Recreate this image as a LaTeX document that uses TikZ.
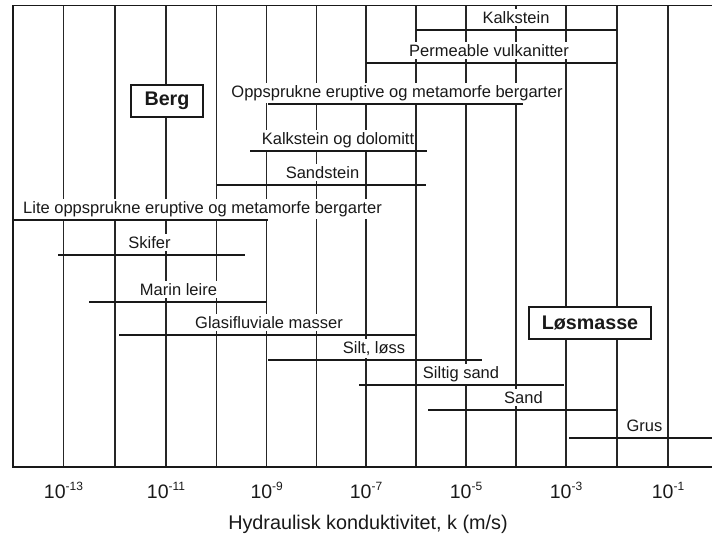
\documentclass[tikz,border=0pt]{standalone}
\usepackage{fontspec}
\setmainfont{Liberation Sans}
\begin{document}
\begin{tikzpicture}[x=1pt,y=-1pt,
  grid/.style={line width=1.2pt, draw=black!85},
  frame/.style={line width=1.6pt, draw=black!90},
  baseline axis/.style={line width=2.5pt, draw=black!90},
  bar/.style={line width=2.8pt, draw=black!90},
  lbl/.style={font=\fontsize{16.5}{18}\selectfont, text=black!90, fill=white, inner xsep=1pt, inner ysep=2.5pt, anchor=base},
  catbox/.style={draw=black!90, line width=1.8pt, fill=white, font=\fontsize{19.7}{22}\selectfont\bfseries, text=black!90, minimum width=72pt, minimum height=32pt, inner sep=0pt},
  tick/.style={font=\fontsize{19.5}{22}\selectfont, text=black!90, anchor=base, inner sep=0pt},
  axtitle/.style={font=\fontsize{19.8}{22}\selectfont, text=black!90, anchor=base},
]
\useasboundingbox (0,0) rectangle (712,536);
% vertical grid lines (one per decade)
\foreach \x in {63.5,115,166,216.7,266.7,316.7,366,416,466,516,566,617,668}
  \draw[grid] (\x,5.5) -- (\x,467);
% frame
\coordinate (tr) at (712,5.5);
\coordinate (tl) at (13,5.5);
\coordinate (bl) at (13,467);
\coordinate (br) at (712,467);
\draw[frame] (tr) -- (tl) -- (bl);
\draw[baseline axis] ([xshift=-0.8pt]bl) -- (br);
% labels (white background hides the grid lines behind them)
\foreach \n/\y/\c/\t in {
  kalk/30/516/{Kalkstein},
  perm/63/489/{Permeable vulkanitter},
  opps/104/397/{Oppsprukne eruptive og metamorfe bergarter},
  dolo/151/338/{Kalkstein og dolomitt},
  sand/185/322.5/{Sandstein},
  lite/220/202.5/{Lite oppsprukne eruptive og metamorfe bergarter},
  skif/255/149.5/{Skifer},
  mari/302/178.5/{Marin leire},
  glas/335/269/{Glasifluviale masser},
  silt/360/374/{Silt, løss},
  sisa/385/461/{Siltig sand},
  sndd/410/523.5/{Sand},
  grus/438/644.5/{Grus}}
  \node[lbl] (l-\n) at (\c,\y-6.5) {\t};
% bars
\foreach \n/\y/\a/\b in {
  kalk/30/416/617,
  perm/63/366/617,
  opps/104/268/523,
  dolo/151/250/427,
  sand/185/217/426,
  lite/220/13/268,
  skif/255/58/245,
  mari/302/89/267,
  glas/335/119/417,
  silt/360/268/482,
  sisa/385/359/564,
  sndd/410/428/618,
  grus/438/569/712}
{
  \coordinate (\n-a) at (\a,\y);
  \coordinate (\n-b) at (\b,\y);
  \draw[bar] (\n-a) -- (\n-b);
}
% category boxes
\node[catbox] (berg) at (167,101) {Berg};
\node[catbox, minimum width=122pt] (los) at (590,323) {Løsmasse};
% axis tick labels
\foreach \x/\e in {63.5/13, 166/11, 266.7/9, 366/7, 466/5, 566/3, 668/1}
  \node[tick] (t\e) at (\x,498) {10\raisebox{8pt}{\fontsize{12}{12}\selectfont -\e}};
% axis title
\node[axtitle] (title) at (368,529) {Hydraulisk konduktivitet, k (m/s)};
\end{tikzpicture}
\end{document}
